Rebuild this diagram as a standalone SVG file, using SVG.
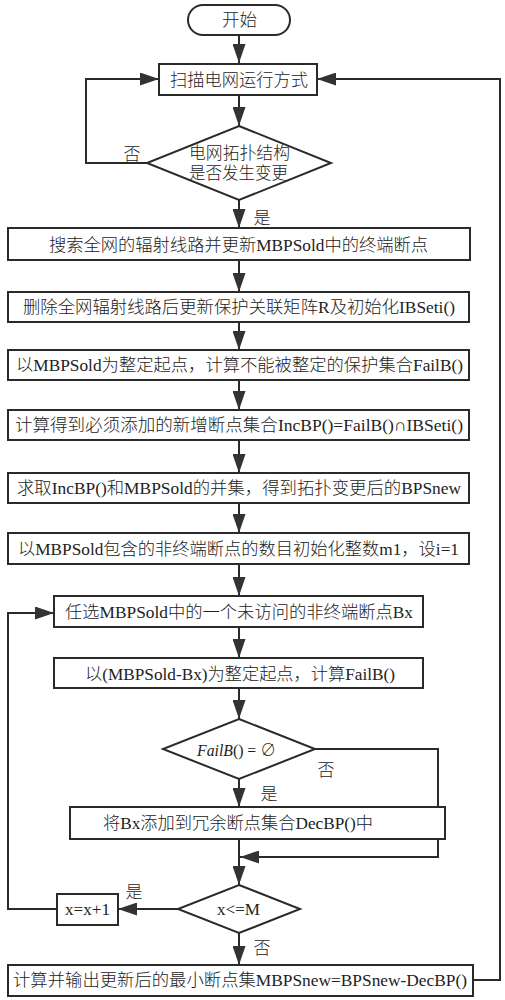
<svg xmlns="http://www.w3.org/2000/svg" width="505" height="1000" viewBox="0 0 505 1000">
<style>
.n{fill:#fff;stroke:#2a2a2a;stroke-width:2}
.c{fill:none;stroke:#2a2a2a;stroke-width:2}
text{font-family:"Liberation Serif","Noto Sans CJK SC",serif;font-size:17px;font-weight:300;fill:#222;text-anchor:middle;dominant-baseline:central}
</style>
<defs>
<marker id="ah" markerUnits="userSpaceOnUse" markerWidth="19" markerHeight="13" refX="19" refY="6.5" orient="auto">
<path d="M0,0 L19,6.5 L0,13 z" fill="#333"/>
</marker>
</defs>
<rect width="505" height="1000" fill="#fff"/>
<g id="connectors">
<path class="c" d="M239,35 V63" marker-end="url(#ah)"/>
<path class="c" d="M239,95 V126" marker-end="url(#ah)"/>
<path class="c" d="M147,163 H86 V79 H159" marker-end="url(#ah)"/>
<path class="c" d="M239,200 V228" marker-end="url(#ah)"/>
<path class="c" d="M239,260 V292" marker-end="url(#ah)"/>
<path class="c" d="M239,322 V350" marker-end="url(#ah)"/>
<path class="c" d="M239,380 V410" marker-end="url(#ah)"/>
<path class="c" d="M239,440 V473" marker-end="url(#ah)"/>
<path class="c" d="M239,503 V533" marker-end="url(#ah)"/>
<path class="c" d="M239,564 V596" marker-end="url(#ah)"/>
<path class="c" d="M239,627 V658" marker-end="url(#ah)"/>
<path class="c" d="M239,688 V719" marker-end="url(#ah)"/>
<path class="c" d="M239,779 V807" marker-end="url(#ah)"/>
<path class="c" d="M239,839 V885" marker-end="url(#ah)"/>
<path class="c" d="M315,749 H438 V857 H240" marker-end="url(#ah)"/>
<path class="c" d="M178,909 H118" marker-end="url(#ah)"/>
<path class="c" d="M57,909 H8 V613 H54" marker-end="url(#ah)"/>
<path class="c" d="M239,933 V965" marker-end="url(#ah)"/>
<path class="c" d="M473,980 H500 V79 H317" marker-end="url(#ah)"/>
<text x="132" y="154">否</text>
<text x="262" y="218">是</text>
<text x="326" y="770">否</text>
<text x="269" y="794">是</text>
<text x="134" y="892">是</text>
<text x="262" y="948">否</text>
</g>
<g id="start"><rect class="n" x="188" y="5" width="102" height="30" rx="15"/><text x="239.5" y="20" textLength="35" lengthAdjust="spacingAndGlyphs">开始</text></g>
<g id="scan"><rect class="n" x="159" y="64" width="158" height="31"/><text x="239" y="80" textLength="138" lengthAdjust="spacingAndGlyphs">扫描电网运行方式</text></g>
<g id="topoChanged"><polygon class="n" points="239,126 331,163 239,200 147,163"/><text x="239.5" y="153" textLength="101" lengthAdjust="spacingAndGlyphs">电网拓扑结构</text><text x="238.5" y="173" textLength="99" lengthAdjust="spacingAndGlyphs">是否发生变更</text></g>
<g id="search"><rect class="n" x="8" y="228" width="462" height="32"/><text x="238.5" y="245" textLength="379" lengthAdjust="spacingAndGlyphs">搜索全网的辐射线路并更新MBPSold中的终端断点</text></g>
<g id="delete"><rect class="n" x="8" y="292" width="461" height="30"/><text x="239" y="307" textLength="432" lengthAdjust="spacingAndGlyphs">删除全网辐射线路后更新保护关联矩阵R及初始化IBSeti()</text></g>
<g id="failB"><rect class="n" x="8" y="350" width="461" height="30"/><text x="239.5" y="365" textLength="447" lengthAdjust="spacingAndGlyphs">以MBPSold为整定起点，计算不能被整定的保护集合FailB()</text></g>
<g id="incBP"><rect class="n" x="8" y="410" width="461" height="30"/><text x="239" y="425" textLength="448" lengthAdjust="spacingAndGlyphs">计算得到必须添加的新增断点集合IncBP()=FailB()∩IBSeti()</text></g>
<g id="union"><rect class="n" x="8" y="473" width="461" height="30"/><text x="239" y="488" textLength="444" lengthAdjust="spacingAndGlyphs">求取IncBP()和MBPSold的并集，得到拓扑变更后的BPSnew</text></g>
<g id="init"><rect class="n" x="8" y="533" width="461" height="31"/><text x="238.5" y="549" textLength="441" lengthAdjust="spacingAndGlyphs">以MBPSold包含的非终端断点的数目初始化整数m1，设i=1</text></g>
<g id="pick"><rect class="n" x="54" y="596" width="369" height="31"/><text x="239" y="612" textLength="348" lengthAdjust="spacingAndGlyphs">任选MBPSold中的一个未访问的非终端断点Bx</text></g>
<g id="calcFail"><rect class="n" x="54" y="658" width="369" height="30"/><text x="240" y="674" textLength="310" lengthAdjust="spacingAndGlyphs">以(MBPSold-Bx)为整定起点，计算FailB()</text></g>
<g id="isEmpty"><polygon class="n" points="239,719 315,749 239,779 163,749"/><text x="236.5" y="750" textLength="79" lengthAdjust="spacingAndGlyphs"><tspan font-style="italic">FailB</tspan>() = ∅</text></g>
<g id="addDec"><rect class="n" x="70" y="807" width="375" height="32"/><text x="238" y="823" textLength="270" lengthAdjust="spacingAndGlyphs">将Bx添加到冗余断点集合DecBP()中</text></g>
<g id="xLeM"><polygon class="n" points="239,885 300,909 239,933 178,909"/><text x="238.5" y="909" textLength="43" lengthAdjust="spacingAndGlyphs">x&lt;=M</text></g>
<g id="inc"><rect class="n" x="57" y="894" width="61" height="31"/><text x="87.5" y="909" textLength="45" lengthAdjust="spacingAndGlyphs">x=x+1</text></g>
<g id="output"><rect class="n" x="8" y="965" width="465" height="31"/><text x="240" y="980" textLength="454" lengthAdjust="spacingAndGlyphs">计算并输出更新后的最小断点集MBPSnew=BPSnew-DecBP()</text></g>
</svg>
